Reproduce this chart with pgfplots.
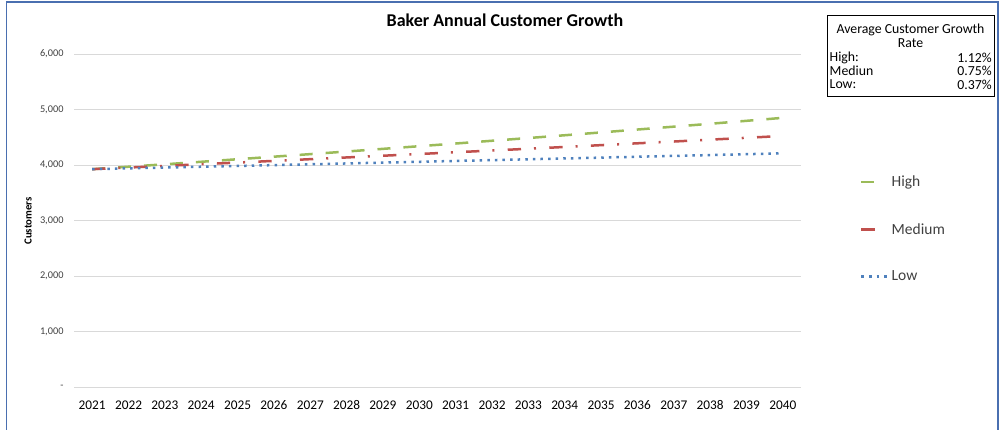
\documentclass[border=0pt]{standalone}
\usepackage{pgfplots}
\pgfplotsset{compat=1.18}
\usepackage{pgfplotstable}
\usepackage{fontspec}
\setmainfont{Carlito}
\definecolor{hi}{HTML}{9BBB59}
\definecolor{me}{HTML}{C0504D}
\definecolor{lo}{HTML}{4F81BD}
\definecolor{grd}{HTML}{D9D9D9}
\definecolor{frm}{HTML}{4A6FB0}
\definecolor{txt}{HTML}{404040}

\pgfplotstableread{
year high medium low
2021 3925 3925 3925
2022 3969 3954 3940
2023 4013 3984 3954
2024 4058 4014 3969
2025 4104 4044 3983
2026 4150 4074 3998
2027 4196 4105 4013
2028 4243 4136 4028
2029 4291 4167 4043
2030 4339 4198 4058
2031 4387 4230 4073
2032 4437 4261 4088
2033 4486 4293 4103
2034 4536 4325 4118
2035 4587 4358 4133
2036 4639 4391 4149
2037 4691 4423 4164
2038 4743 4457 4179
2039 4796 4490 4195
2040 4850 4524 4210
}\data

\begin{document}
\begin{tikzpicture}
\path[use as bounding box] (0pt,0pt) rectangle (1003pt,429pt);
\draw[frm, line width=1.5pt] (6.5pt,-10pt) -- (6.5pt,427pt) -- (998pt,427pt) -- (998pt,-10pt);
\begin{axis}[
 at={(74pt,42pt)}, anchor=south west,
 scale only axis, width=727pt, height=333pt,
 xmin=2020.5, xmax=2040.5, ymin=0, ymax=6000,
 xtick={2021,2022,2023,2024,2025,2026,2027,2028,2029,2030,2031,2032,2033,2034,2035,2036,2037,2038,2039,2040},
 xticklabels={2021,2022,2023,2024,2025,2026,2027,2028,2029,2030,2031,2032,2033,2034,2035,2036,2037,2038,2039,2040},
 ytick={0,1000,2000,3000,4000,5000,6000},
 yticklabels={-,{1,000},{2,000},{3,000},{4,000},{5,000},{6,000}},
 axis line style={draw=none}, major tick length=0pt,
 ymajorgrids, grid style={grd, line width=1pt},
 xticklabel style={font=\fontsize{13.3}{15}\selectfont, text=black, yshift=-10pt},
 yticklabel style={font=\fontsize{10.3}{12}\selectfont, text=txt, xshift=-7pt},
 clip=false,
 legend style={draw=none, fill=none, at={(1,0.4745)}, anchor=west, xshift=59pt,
   font=\fontsize{15.5}{18}\selectfont, text=txt, row sep=31pt, inner sep=0pt,
   cells={anchor=west}},
]
\addplot[hi, line width=2.5pt, dash pattern=on 13pt off 13pt,
  legend image code/.code={\draw[hi,line width=2.5pt] (0pt,0pt) -- (15pt,0pt);}]
  table[x=year,y=high]{\data};
\addlegendentry{High}
\addplot[me, line width=2.5pt, dash pattern=on 13.3pt off 13pt on 2pt off 13.3pt,
  legend image code/.code={\draw[me,line width=2.5pt] (0pt,0pt) -- (15pt,0pt);}]
  table[x=year,y=medium]{\data};
\addlegendentry{Medium}
\addplot[lo, line width=2.5pt, dash pattern=on 2.5pt off 5.1pt,
  legend image code/.code={\draw[lo,line width=2.5pt, dash pattern=on 2.5pt off 5.1pt] (0pt,0pt) -- (27pt,0pt);}]
  table[x=year,y=low]{\data};
\addlegendentry{Low}
\end{axis}
\node[font=\bfseries\fontsize{18}{21}\selectfont] at (505pt,409pt) {Baker Annual Customer Growth};
\node[rotate=90, font=\bfseries\fontsize{10.8}{13}\selectfont] at (28pt,208pt) {Customers};
\draw[black, line width=0.8pt] (827pt,333pt) rectangle (994pt,414pt);
\begin{scope}[every node/.style={font=\fontsize{13.8}{15}\selectfont, inner sep=1pt}]
\node at (910.5pt,399pt) {Average Customer Growth};
\node at (910.5pt,385.5pt) {Rate};
\node[anchor=west] at (828.5pt,371.5pt) {High:};
\node[anchor=east] at (993pt,371.5pt) {1.12\%};
\node[anchor=west] at (828.5pt,358pt) {Mediun};
\node[anchor=east] at (993pt,358pt) {0.75\%};
\node[anchor=west] at (828.5pt,344.5pt) {Low:};
\node[anchor=east] at (993pt,344.5pt) {0.37\%};
\end{scope}
\end{tikzpicture}
\end{document}
